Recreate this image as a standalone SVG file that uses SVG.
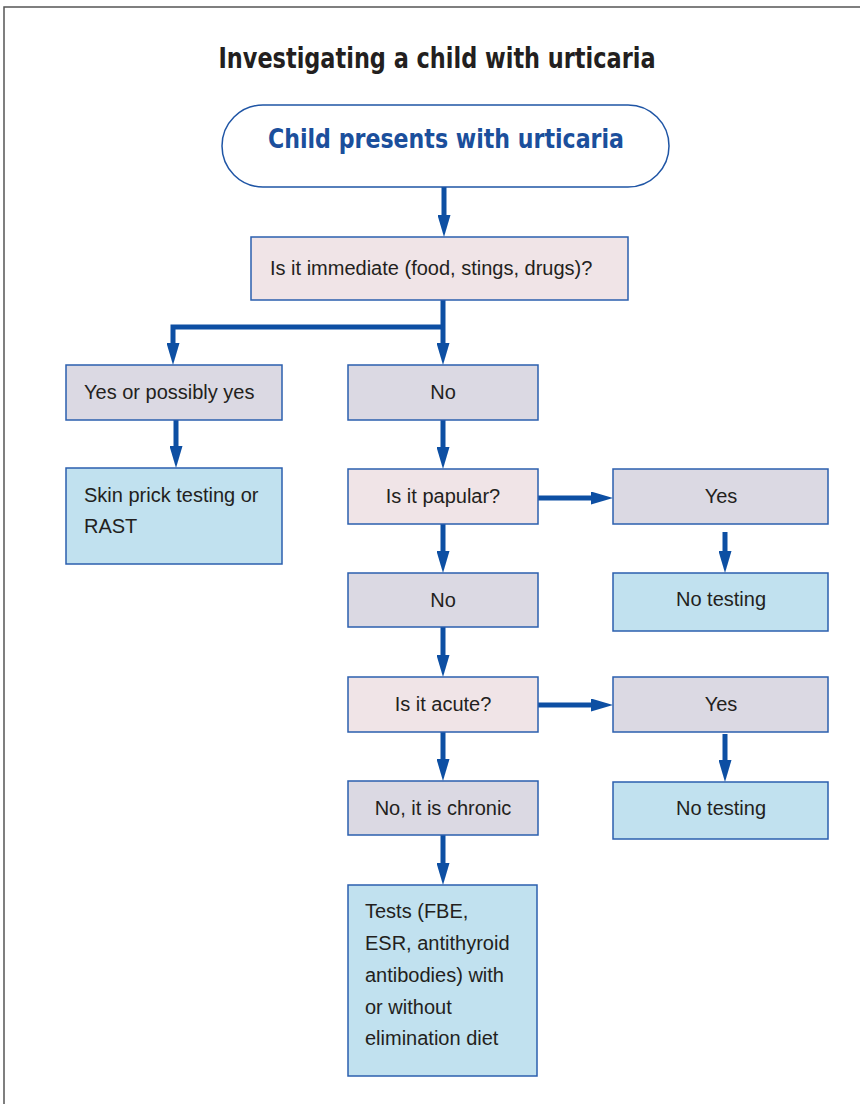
<svg xmlns="http://www.w3.org/2000/svg" width="860" height="1104" viewBox="0 0 860 1104">
<style>
.frame{fill:none;stroke:#555;stroke-width:1.5}
.title{font-family:"DejaVu Sans Condensed","DejaVu Sans",sans-serif;font-weight:bold;font-size:29px;fill:#231f20}
.start{fill:#fff;stroke:#1f55a5;stroke-width:1.5}
.starttxt{font-family:"DejaVu Sans Condensed","DejaVu Sans",sans-serif;font-weight:bold;font-size:26px;fill:#1b4f9c}
.box{stroke:#2b5fae;stroke-width:1.5}
.q{fill:#f0e4e7}
.a{fill:#dbd9e3}
.r{fill:#c1e1ef}
.t{font-family:"Liberation Sans",Arial,sans-serif;font-size:20px;fill:#231f20}
.c{text-anchor:middle}
.con{fill:none;stroke:#0d4fa3;stroke-width:5;stroke-linejoin:miter}
</style>
<defs>
<marker id="ah" markerUnits="userSpaceOnUse" markerWidth="22" markerHeight="13" refX="12" refY="6.5" orient="auto">
<path d="M0,0 L22,6.5 L0,13 Z" fill="#0d4fa3"/>
</marker>
</defs>
<path class="frame" d="M4,1104 V7 H860"/>
<text class="title" x="437" y="68" text-anchor="middle" textLength="437" lengthAdjust="spacingAndGlyphs">Investigating a child with urticaria</text>

<g id="connectors">
<line class="con" x1="444" y1="187" x2="444" y2="227" marker-end="url(#ah)"/>
<line class="con" x1="443" y1="300" x2="443" y2="355" marker-end="url(#ah)"/>
<polyline class="con" points="443,327 173,327 173,355" marker-end="url(#ah)"/>
<line class="con" x1="176" y1="420" x2="176" y2="458" marker-end="url(#ah)"/>
<line class="con" x1="443" y1="420" x2="443" y2="459" marker-end="url(#ah)"/>
<line class="con" x1="538" y1="498" x2="603" y2="498" marker-end="url(#ah)"/>
<line class="con" x1="725" y1="532" x2="725" y2="563" marker-end="url(#ah)"/>
<line class="con" x1="443" y1="524" x2="443" y2="563" marker-end="url(#ah)"/>
<line class="con" x1="443" y1="627" x2="443" y2="667" marker-end="url(#ah)"/>
<line class="con" x1="538" y1="705" x2="603" y2="705" marker-end="url(#ah)"/>
<line class="con" x1="725" y1="734" x2="725" y2="772" marker-end="url(#ah)"/>
<line class="con" x1="443" y1="732" x2="443" y2="771" marker-end="url(#ah)"/>
<line class="con" x1="443" y1="835" x2="443" y2="875" marker-end="url(#ah)"/>
</g>

<g id="start">
<rect class="start" x="222" y="105" width="447" height="82" rx="41" ry="41"/>
<text class="starttxt" x="446" y="148" text-anchor="middle" textLength="356" lengthAdjust="spacingAndGlyphs">Child presents with urticaria</text>
</g>
<g id="q-immediate">
<rect class="box q" x="251" y="237" width="377" height="63"/>
<text class="t" x="270" y="275">Is it immediate (food, stings, drugs)?</text>
</g>
<g id="yes-immediate">
<rect class="box a" x="66" y="365" width="216" height="55"/>
<text class="t" x="84" y="399">Yes or possibly yes</text>
</g>
<g id="skin-prick">
<rect class="box r" x="66" y="468" width="216" height="96"/>
<text class="t" x="84" y="502">Skin prick testing or</text>
<text class="t" x="84" y="533">RAST</text>
</g>
<g id="no-immediate">
<rect class="box a" x="348" y="365" width="190" height="55"/>
<text class="t c" x="443" y="399">No</text>
</g>
<g id="q-papular">
<rect class="box q" x="348" y="469" width="190" height="55"/>
<text class="t c" x="443" y="503">Is it papular?</text>
</g>
<g id="yes-papular">
<rect class="box a" x="613" y="469" width="215" height="55"/>
<text class="t c" x="721" y="503">Yes</text>
</g>
<g id="no-testing-1">
<rect class="box r" x="613" y="573" width="215" height="58"/>
<text class="t c" x="721" y="606">No testing</text>
</g>
<g id="no-papular">
<rect class="box a" x="348" y="573" width="190" height="54"/>
<text class="t c" x="443" y="607">No</text>
</g>
<g id="q-acute">
<rect class="box q" x="348" y="677" width="190" height="55"/>
<text class="t c" x="443" y="711">Is it acute?</text>
</g>
<g id="yes-acute">
<rect class="box a" x="613" y="677" width="215" height="55"/>
<text class="t c" x="721" y="711">Yes</text>
</g>
<g id="no-testing-2">
<rect class="box r" x="613" y="782" width="215" height="57"/>
<text class="t c" x="721" y="815">No testing</text>
</g>
<g id="chronic">
<rect class="box a" x="348" y="781" width="190" height="54"/>
<text class="t c" x="443" y="815">No, it is chronic</text>
</g>
<g id="tests">
<rect class="box r" x="348" y="885" width="189" height="191"/>
<text class="t" x="365" y="918">Tests (FBE,</text>
<text class="t" x="365" y="950">ESR, antithyroid</text>
<text class="t" x="365" y="982">antibodies) with</text>
<text class="t" x="365" y="1014">or without</text>
<text class="t" x="365" y="1045">elimination diet</text>
</g>
</svg>
